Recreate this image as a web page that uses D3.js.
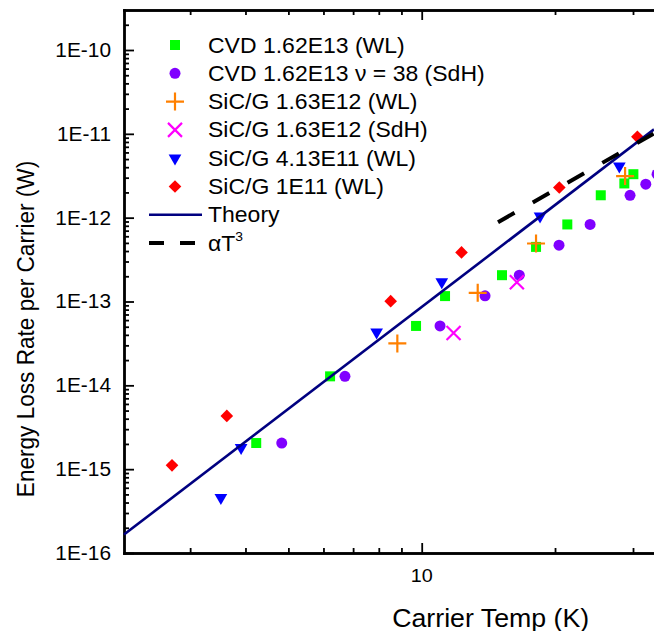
<!DOCTYPE html>
<html>
<head>
<meta charset="utf-8">
<script src="https://cdn.jsdelivr.net/npm/d3@7"></script>
<style>
body { margin: 0; background: #fff; }
svg text { font-family: "Liberation Sans", Arial, sans-serif; fill: #000; }
</style>
</head>
<body>
<div id="chart"></div>
<script>
// values: carrier temp (K) and loss rate (W)
const cvdWL_T = [4.23, 6.21, 9.71, 11.29, 15.18, 18.12, 21.32, 25.37, 28.68, 30.06];
const cvdWL_P = [2.05e-15, 1.28e-14, 5.11e-14, 1.16e-13, 2.06e-13, 4.48e-13, 8.3e-13, 1.85e-12, 2.56e-12, 3.3e-12];

const cvdSdH_T = [4.83, 6.71, 11.0, 13.9, 16.61, 20.42, 24.0, 29.54, 32.06, 34.0];
const cvdSdH_P = [2.05e-15, 1.28e-14, 5.11e-14, 1.17e-13, 2.06e-13, 4.7e-13, 8.3e-13, 1.85e-12, 2.51e-12, 3.3e-12];

const sic163WL_T = [8.81, 13.38, 18.12, 28.79];
const sic163WL_P = [3.16e-14, 1.27e-13, 4.92e-13, 3.13e-12];

const sic163SdH_T = [11.8, 16.4];
const sic163SdH_P = [4.22e-14, 1.7e-13];

const sic413_T = [3.52, 3.91, 7.91, 11.1, 18.5, 27.94];
const sic413_P = [4.58e-16, 1.81e-15, 4.31e-14, 1.71e-13, 1.04e-12, 4.12e-12];

const sic1E11_T = [2.73, 3.63, 8.51, 12.3, 20.45, 30.69];
const sic1E11_P = [1.11e-15, 4.32e-15, 1.01e-13, 3.85e-13, 2.29e-12, 9.2e-12];

const theory_T = [2.127, 33.46];
const theory_P = [1.66e-16, 1.13e-11];

const cubic_T = [14.87, 33.46];
const cubic_P = [8.83e-13, 1.01e-11];

const yMajor = [1e-16, 1e-15, 1e-14, 1e-13, 1e-12, 1e-11, 1e-10];
const xMajor = [10];
const xMinor = [3, 4, 5, 6, 7, 8, 9, 20, 30];

const W = 654, H = 631;
const sx = 1.07; // the reference glyphs are a little wider than normal

const svg = d3.select("#chart").append("svg")
    .attr("width", W)
    .attr("height", H);

const x = d3.scaleLog().domain([2.127, 33.46]).range([124, 654]);
const y = d3.scaleLog().domain([1e-16, 3e-10]).range([553, 10]);

// minor y ticks 2..9 in every decade
const yMinor = [];
yMajor.forEach(d => {
    for (let k = 2; k <= 9; k++) {
        const v = k * d;
        if (v < y.domain()[1]) yMinor.push(v);
    }
});

function label(g, px, py, str, size, anchor) {
    return g.append("text")
        .attr("transform", `translate(${px},${py}) scale(${sx},1)`)
        .attr("font-size", size)
        .attr("text-anchor", anchor)
        .text(str);
}

// axes
function styleAxis(g) {
    g.select(".domain").attr("stroke-width", 2.4).attr("stroke-linecap", "square");
    g.selectAll(".tick line").attr("stroke-width", 1.8);
    g.selectAll(".tick text").remove();
}

svg.append("g")
    .attr("transform", `translate(124,0)`)
    .call(d3.axisLeft(y).tickValues(yMinor).tickSize(-5).tickSizeOuter(0).tickFormat(""))
    .call(styleAxis);
svg.append("g")
    .attr("transform", `translate(124,0)`)
    .call(d3.axisLeft(y).tickValues(yMajor).tickSize(-10).tickSizeOuter(0).tickFormat(""))
    .call(styleAxis);

svg.append("g")
    .attr("transform", `translate(0,553)`)
    .call(d3.axisBottom(x).tickValues(xMinor).tickSize(-5).tickSizeOuter(0).tickFormat(""))
    .call(styleAxis);
svg.append("g")
    .attr("transform", `translate(0,553)`)
    .call(d3.axisBottom(x).tickValues(xMajor).tickSize(-10).tickSizeOuter(0).tickFormat(""))
    .call(styleAxis);

svg.append("g")
    .attr("transform", `translate(0,10)`)
    .call(d3.axisTop(x).tickValues(xMinor).tickSize(-5).tickSizeOuter(0).tickFormat(""))
    .call(styleAxis);
svg.append("g")
    .attr("transform", `translate(0,10)`)
    .call(d3.axisTop(x).tickValues(xMajor).tickSize(-10).tickSizeOuter(0).tickFormat(""))
    .call(styleAxis);

// tick labels
const labels = svg.append("g");
yMajor.forEach(d => {
    label(labels, 111, y(d) + 7, "1E" + Math.round(Math.log10(d)), 19.5, "end");
});
xMajor.forEach(d => {
    label(labels, x(d), 582, String(d), 18.5, "middle");
});

// axis titles
label(labels, x(10) + 69, 627, "Carrier Temp (K)", 25, "middle");
svg.append("text")
    .attr("transform", `translate(34,329) scale(${sx},1) rotate(-90)`)
    .attr("font-size", 22.6)
    .attr("text-anchor", "middle")
    .text("Energy Loss Rate per Carrier (W)");

// marker shapes
const sq = d3.symbol().type(d3.symbolSquare).size(100)();
const circ = d3.symbol().type(d3.symbolCircle).size(95)();
const tri = d3.symbol().type(d3.symbolTriangle).size(70)();
const diam = d3.symbol().type(d3.symbolSquare).size(80)();
const plus = "M-9,0H9M0,-9V9";
const cross = "M-7,-7L7,7M-7,7L7,-7";

const series = [
    { name: "CVD 1.62E13 (WL)", T: cvdWL_T, P: cvdWL_P, path: sq, color: "#00ff00", fill: true, rot: 0 },
    { name: "CVD 1.62E13 \u03bd = 38 (SdH)", T: cvdSdH_T, P: cvdSdH_P, path: circ, color: "#8000ff", fill: true, rot: 0 },
    { name: "SiC/G 1.63E12 (WL)", T: sic163WL_T, P: sic163WL_P, path: plus, color: "#ff8000", fill: false, rot: 0 },
    { name: "SiC/G 1.63E12 (SdH)", T: sic163SdH_T, P: sic163SdH_P, path: cross, color: "#ff00ff", fill: false, rot: 0 },
    { name: "SiC/G 4.13E11 (WL)", T: sic413_T, P: sic413_P, path: tri, color: "#0000ff", fill: true, rot: 180 },
    { name: "SiC/G 1E11 (WL)", T: sic1E11_T, P: sic1E11_P, path: diam, color: "#ff0000", fill: true, rot: 45 }
];

function drawMarker(g, s, px, py) {
    g.append("path")
        .attr("d", s.path)
        .attr("transform", `translate(${px},${py}) rotate(${s.rot})`)
        .attr("fill", s.fill ? s.color : "none")
        .attr("stroke", s.fill ? "none" : s.color)
        .attr("stroke-width", s.fill ? 0 : 2.2);
}

const plot = svg.append("g");
series.forEach(s => {
    s.T.forEach((t, i) => drawMarker(plot, s, x(t), y(s.P[i])));
});

// theory and alpha T^3 lines
const line = d3.line().x(d => x(d[0])).y(d => y(d[1]));
plot.append("path")
    .datum(d3.zip(theory_T, theory_P))
    .attr("d", line)
    .attr("fill", "none")
    .attr("stroke", "#000080")
    .attr("stroke-width", 2.6);
plot.append("path")
    .datum(d3.zip(cubic_T, cubic_P))
    .attr("d", line)
    .attr("fill", "none")
    .attr("stroke", "#000")
    .attr("stroke-width", 4)
    .attr("stroke-dasharray", "19,21");

// legend
const legend = svg.append("g");
const rowY = i => 45 + i * 28.3;
series.forEach((s, i) => {
    drawMarker(legend, s, 175, rowY(i));
    label(legend, 208, rowY(i) + 7.5, s.name, 21.5, "start");
});
legend.append("line")
    .attr("x1", 149).attr("x2", 202)
    .attr("y1", rowY(6)).attr("y2", rowY(6))
    .attr("stroke", "#000080").attr("stroke-width", 2.6);
label(legend, 208, rowY(6) + 7.5, "Theory", 21.5, "start");
legend.append("line")
    .attr("x1", 149).attr("x2", 202)
    .attr("y1", rowY(7)).attr("y2", rowY(7))
    .attr("stroke", "#000").attr("stroke-width", 4)
    .attr("stroke-dasharray", "15,16");
const at3 = label(legend, 208, rowY(7) + 7.5, "\u03b1T", 21.5, "start");
at3.append("tspan")
    .attr("font-size", 13)
    .attr("dy", -10)
    .text("3");
</script>
</body>
</html>
